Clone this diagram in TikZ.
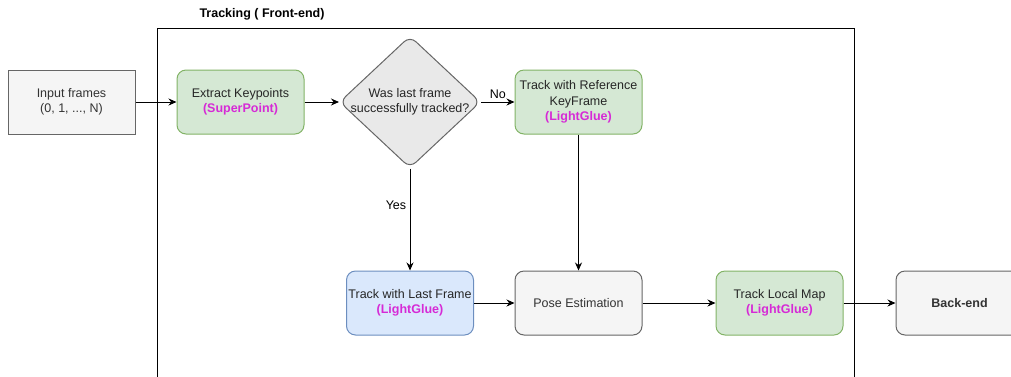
\documentclass[tikz,border=0pt]{standalone}
\usepackage{fontspec}
\setmainfont{Liberation Sans}
\usetikzlibrary{shapes.geometric,arrows.meta}

\definecolor{greenfill}{HTML}{D5E8D4}
\definecolor{greenline}{HTML}{82B366}
\definecolor{bluefill}{HTML}{DAE8FC}
\definecolor{blueline}{HTML}{6C8EBF}
\definecolor{grayfill}{HTML}{F5F5F5}
\definecolor{grayline}{HTML}{666666}
\definecolor{graytext}{HTML}{333333}
\definecolor{gluecolor}{HTML}{D62AD6}

\newcommand{\modelname}[1]{\textbf{\color{gluecolor}(#1)}}

\begin{document}
\begin{tikzpicture}[x=1pt, y=-1pt, line width=1pt, >={Stealth[length=8pt,width=7pt]},
    every node/.style={font=\fontsize{12.5}{15.5}\selectfont},
    box/.style={draw, rounded corners=9pt, minimum width=127pt, minimum height=64pt, align=center, inner sep=0pt},
    greenbox/.style={box, draw=greenline, fill=greenfill, text=black!85},
    bluebox/.style={box, draw=blueline, fill=bluefill, text=black!85},
    graybox/.style={box, draw=grayline, fill=grayfill, text=graytext},
    decision/.style={diamond, draw=grayline, fill=grayfill!95!black, rounded corners=8pt, minimum width=141pt, minimum height=132pt, inner sep=0pt}]
    \useasboundingbox (0,0) rectangle (1011,376);
    \clip (0,0) rectangle (1011,376);
    % front-end frame, open at the bottom
    \draw (157,380) -- (157,28) -- (854,28) -- (854,380);
    \node[font=\fontsize{12.5}{15.5}\selectfont\bfseries] (tracktitle) at (262,14) {Tracking ( Front-end)};
    % boxes
    \node[graybox, rounded corners=0pt] (input) at (71.5,102) {Input frames\\(0, 1, ..., N)};
    \node[greenbox] (extract) at (240.5,102) {Extract Keypoints\\\modelname{SuperPoint}};
    \node[decision] (check) at (410,102) {};
    \node[align=center, text=black!85] (checktext) at (check.center) {Was last frame\\successfully tracked?};
    \node[greenbox] (refkf) at (578.5,102) {Track with Reference\\KeyFrame\\\modelname{LightGlue}};
    \node[bluebox] (lastfr) at (410,303) {Track with Last Frame\\\modelname{LightGlue}};
    \node[graybox] (pose) at (578.5,303) {Pose Estimation};
    \node[greenbox] (localmap) at (779.5,303) {Track Local Map\\\modelname{LightGlue}};
    \node[graybox, font=\fontsize{12.5}{15.5}\selectfont\bfseries] (backend) at (959.5,303) {Back-end};
    % connectors
    \draw[->] (input) -- (extract);
    \draw[->] (extract) -- (check);
    \draw[->] (check) -- node[above] (nolabel) {No} (refkf);
    \draw[->] (check) -- node[pos=0.36, left] (yeslabel) {Yes} (lastfr);
    \draw[->] (refkf) -- (pose);
    \draw[->] (lastfr) -- (pose);
    \draw[->] (pose) -- (localmap);
    \draw[->] (localmap) -- (backend);
\end{tikzpicture}
\end{document}
